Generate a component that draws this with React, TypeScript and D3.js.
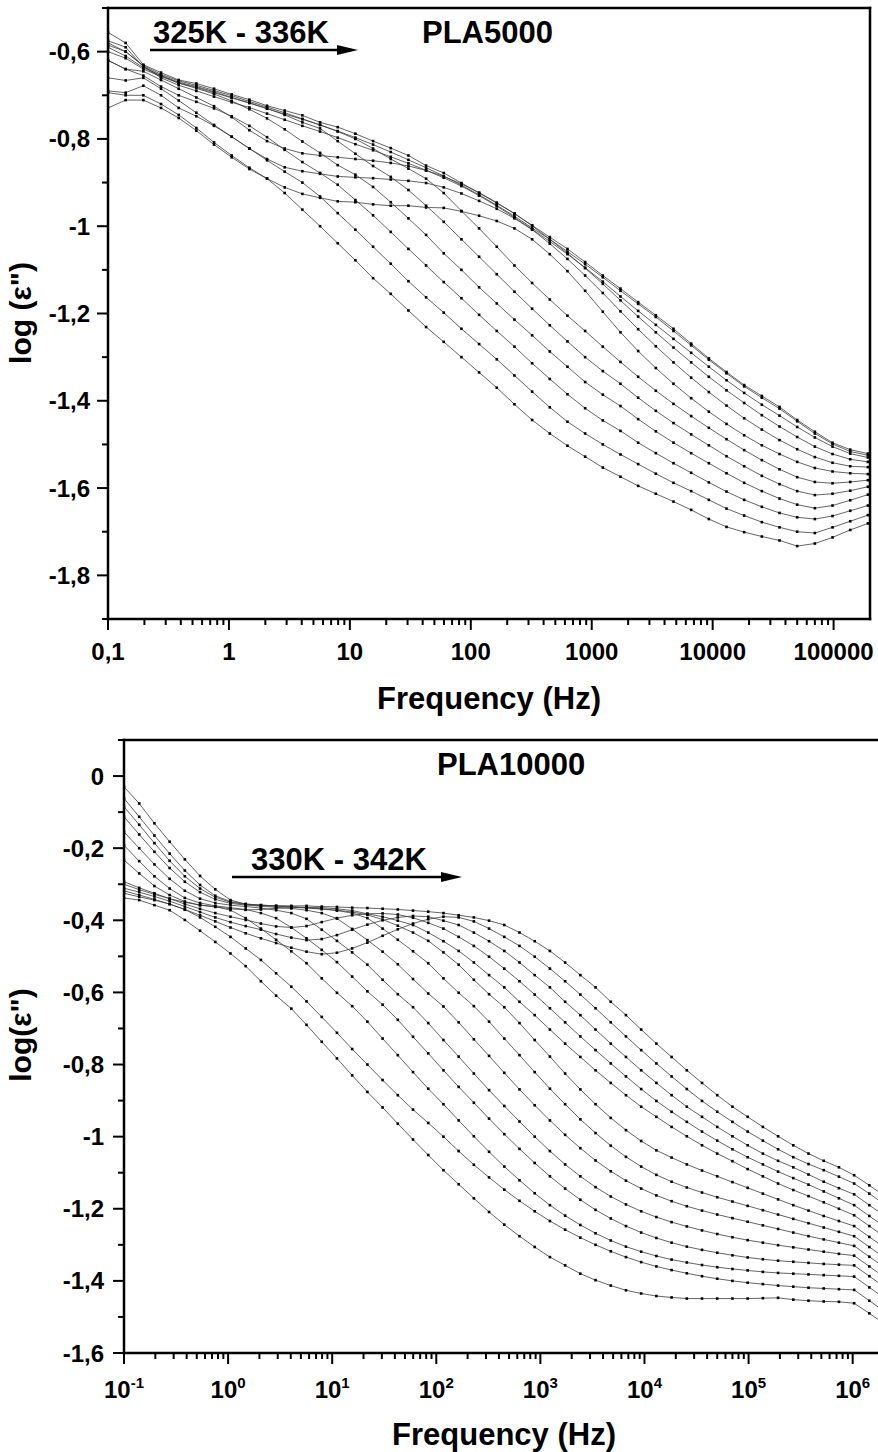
import React from "react";
import * as d3 from "d3";

// Measurement frequencies (Hz), shared by both panels
const FREQ = [0.1, 0.14, 0.196, 0.2744, 0.3842, 0.5378, 0.753, 1.0541, 1.4758, 2.0661, 2.8925, 4.0496, 5.6694, 7.9371, 11.112, 15.557, 21.78, 30.491, 42.688, 59.763, 83.668, 117.14, 163.99, 229.58, 321.41, 449.98, 629.97, 881.96, 1234.7, 1728.6, 2420.1, 3388.1, 4743.4, 6640.8, 9297.1, 13016, 18222, 25511, 35716, 50002, 70003, 98004, 137206, 192088, 268923, 376493, 527090, 737926, 1033096, 1446334, 2024868];

// ---------- PLA5000 (log eps'') ----------
const P5_A = [-0.729, -0.711, -0.711, -0.729, -0.752, -0.781, -0.813, -0.842, -0.869, -0.891, -0.924, -0.962, -1.0, -1.039, -1.078, -1.119, -1.155, -1.193, -1.231, -1.265, -1.3, -1.335, -1.37, -1.408, -1.444, -1.475, -1.503, -1.528, -1.553, -1.574, -1.595, -1.613, -1.631, -1.65, -1.671, -1.689, -1.701, -1.711, -1.72, -1.733, -1.727, -1.713, -1.696, -1.681];
const P5_B = [-0.69, -0.694, -0.678, -0.7, -0.729, -0.748, -0.77, -0.795, -0.822, -0.849, -0.875, -0.9, -0.932, -0.97, -1.008, -1.047, -1.086, -1.126, -1.163, -1.198, -1.235, -1.27, -1.305, -1.342, -1.379, -1.415, -1.448, -1.475, -1.5, -1.523, -1.545, -1.567, -1.588, -1.607, -1.627, -1.647, -1.663, -1.678, -1.69, -1.7, -1.703, -1.69, -1.676, -1.662];
const P5_C = [-0.62, -0.64, -0.655, -0.68, -0.7, -0.715, -0.73, -0.748, -0.77, -0.796, -0.825, -0.853, -0.878, -0.905, -0.94, -0.975, -1.013, -1.052, -1.09, -1.128, -1.165, -1.203, -1.24, -1.276, -1.314, -1.35, -1.385, -1.417, -1.445, -1.469, -1.496, -1.52, -1.543, -1.565, -1.587, -1.608, -1.627, -1.643, -1.657, -1.667, -1.671, -1.664, -1.652, -1.64];
const P5_D = [-0.6, -0.615, -0.64, -0.657, -0.672, -0.684, -0.697, -0.713, -0.732, -0.753, -0.778, -0.806, -0.832, -0.86, -0.882, -0.91, -0.945, -0.982, -1.02, -1.062, -1.1, -1.14, -1.177, -1.214, -1.25, -1.287, -1.322, -1.357, -1.386, -1.412, -1.442, -1.47, -1.496, -1.52, -1.543, -1.566, -1.588, -1.607, -1.624, -1.638, -1.646, -1.64, -1.628, -1.615];
const P5_E = [-0.59, -0.61, -0.637, -0.655, -0.67, -0.68, -0.692, -0.705, -0.717, -0.73, -0.745, -0.762, -0.776, -0.805, -0.834, -0.862, -0.887, -0.917, -0.953, -0.99, -1.03, -1.07, -1.11, -1.15, -1.189, -1.227, -1.264, -1.3, -1.332, -1.361, -1.393, -1.423, -1.451, -1.477, -1.502, -1.527, -1.55, -1.572, -1.591, -1.607, -1.616, -1.613, -1.606, -1.597];
const P5_F = [-0.58, -0.6, -0.632, -0.652, -0.667, -0.677, -0.689, -0.701, -0.714, -0.727, -0.74, -0.754, -0.768, -0.783, -0.8, -0.822, -0.846, -0.868, -0.891, -0.924, -0.965, -1.005, -1.047, -1.09, -1.13, -1.168, -1.205, -1.24, -1.276, -1.311, -1.345, -1.377, -1.407, -1.435, -1.462, -1.488, -1.513, -1.536, -1.557, -1.575, -1.586, -1.589, -1.586, -1.582];
const P5_G = [-0.694, -0.7, -0.7, -0.72, -0.745, -0.775, -0.808, -0.838, -0.866, -0.891, -0.911, -0.926, -0.935, -0.943, -0.945, -0.95, -0.953, -0.953, -0.957, -0.958, -0.966, -0.976, -0.988, -1.005, -1.03, -1.064, -1.103, -1.148, -1.196, -1.243, -1.286, -1.325, -1.361, -1.394, -1.425, -1.453, -1.479, -1.502, -1.522, -1.54, -1.554, -1.562, -1.566, -1.568];
const P5_H = [-0.66, -0.666, -0.66, -0.685, -0.712, -0.74, -0.768, -0.795, -0.822, -0.846, -0.865, -0.874, -0.88, -0.886, -0.888, -0.89, -0.893, -0.896, -0.901, -0.911, -0.925, -0.942, -0.96, -0.982, -1.008, -1.04, -1.075, -1.113, -1.153, -1.195, -1.236, -1.275, -1.312, -1.347, -1.38, -1.411, -1.44, -1.466, -1.49, -1.511, -1.529, -1.542, -1.55, -1.552];
const P5_I = [-0.62, -0.64, -0.645, -0.665, -0.685, -0.705, -0.725, -0.75, -0.78, -0.805, -0.822, -0.833, -0.838, -0.842, -0.846, -0.85, -0.855, -0.862, -0.872, -0.886, -0.903, -0.923, -0.946, -0.971, -0.999, -1.03, -1.062, -1.096, -1.132, -1.17, -1.207, -1.243, -1.278, -1.312, -1.345, -1.376, -1.405, -1.433, -1.459, -1.483, -1.505, -1.522, -1.534, -1.54];
const P5_J = [-0.556, -0.58, -0.63, -0.648, -0.665, -0.673, -0.685, -0.698, -0.71, -0.724, -0.735, -0.746, -0.762, -0.773, -0.788, -0.805, -0.821, -0.838, -0.861, -0.878, -0.901, -0.924, -0.947, -0.971, -0.998, -1.025, -1.052, -1.082, -1.113, -1.143, -1.174, -1.204, -1.235, -1.269, -1.303, -1.334, -1.364, -1.389, -1.414, -1.444, -1.471, -1.496, -1.512, -1.521];
const P5_K = [-0.575, -0.59, -0.635, -0.655, -0.672, -0.682, -0.694, -0.706, -0.718, -0.731, -0.743, -0.755, -0.768, -0.782, -0.797, -0.813, -0.83, -0.848, -0.866, -0.885, -0.906, -0.928, -0.952, -0.977, -1.004, -1.03, -1.058, -1.087, -1.117, -1.148, -1.178, -1.208, -1.24, -1.273, -1.306, -1.337, -1.367, -1.393, -1.418, -1.447, -1.475, -1.499, -1.516, -1.525];
const P5_L = [-0.585, -0.6, -0.633, -0.66, -0.677, -0.69, -0.703, -0.716, -0.728, -0.742, -0.756, -0.77, -0.783, -0.797, -0.812, -0.826, -0.841, -0.856, -0.872, -0.889, -0.908, -0.93, -0.954, -0.98, -1.007, -1.035, -1.064, -1.095, -1.127, -1.161, -1.194, -1.226, -1.258, -1.29, -1.322, -1.353, -1.382, -1.409, -1.434, -1.46, -1.484, -1.505, -1.521, -1.53];
const PLA5000 = [P5_A, P5_B, P5_C, P5_D, P5_E, P5_F, P5_G, P5_H, P5_I, P5_J, P5_K, P5_L];

// ---------- PLA10000 (log eps'') ----------
const P10_A = [-0.338, -0.344, -0.358, -0.372, -0.399, -0.429, -0.46, -0.492, -0.527, -0.569, -0.609, -0.645, -0.69, -0.737, -0.783, -0.83, -0.876, -0.919, -0.964, -1.008, -1.051, -1.093, -1.132, -1.171, -1.209, -1.244, -1.276, -1.306, -1.334, -1.357, -1.38, -1.398, -1.413, -1.426, -1.435, -1.442, -1.446, -1.449, -1.449, -1.449, -1.449, -1.449, -1.448, -1.447, -1.452, -1.455, -1.457, -1.458, -1.462, -1.49, -1.52];
const P10_B = [-0.325, -0.335, -0.344, -0.355, -0.37, -0.392, -0.418, -0.446, -0.478, -0.51, -0.547, -0.584, -0.625, -0.668, -0.712, -0.757, -0.8, -0.843, -0.885, -0.925, -0.962, -1.0, -1.04, -1.078, -1.113, -1.147, -1.178, -1.207, -1.234, -1.258, -1.28, -1.3, -1.318, -1.334, -1.348, -1.36, -1.37, -1.379, -1.387, -1.394, -1.4, -1.405, -1.409, -1.413, -1.416, -1.419, -1.421, -1.423, -1.425, -1.455, -1.485];
const P10_C = [-0.233, -0.27, -0.305, -0.33, -0.348, -0.358, -0.362, -0.372, -0.394, -0.423, -0.454, -0.486, -0.519, -0.561, -0.601, -0.638, -0.681, -0.728, -0.774, -0.821, -0.867, -0.91, -0.955, -0.999, -1.042, -1.083, -1.121, -1.157, -1.19, -1.219, -1.245, -1.268, -1.288, -1.305, -1.319, -1.331, -1.341, -1.349, -1.356, -1.362, -1.367, -1.371, -1.375, -1.378, -1.38, -1.382, -1.384, -1.386, -1.388, -1.418, -1.448];
const P10_D = [-0.192, -0.236, -0.278, -0.312, -0.338, -0.352, -0.36, -0.365, -0.37, -0.38, -0.394, -0.42, -0.45, -0.482, -0.516, -0.556, -0.597, -0.634, -0.676, -0.723, -0.769, -0.816, -0.862, -0.906, -0.95, -0.993, -1.034, -1.073, -1.11, -1.144, -1.175, -1.203, -1.227, -1.248, -1.266, -1.281, -1.294, -1.305, -1.314, -1.322, -1.329, -1.335, -1.34, -1.344, -1.347, -1.35, -1.353, -1.355, -1.357, -1.387, -1.417];
const P10_E = [-0.155, -0.2, -0.245, -0.285, -0.318, -0.34, -0.352, -0.358, -0.362, -0.366, -0.372, -0.38, -0.396, -0.426, -0.457, -0.489, -0.523, -0.565, -0.605, -0.641, -0.685, -0.732, -0.778, -0.825, -0.871, -0.915, -0.958, -1.0, -1.04, -1.077, -1.11, -1.14, -1.166, -1.188, -1.207, -1.223, -1.237, -1.249, -1.26, -1.27, -1.279, -1.287, -1.294, -1.301, -1.307, -1.313, -1.319, -1.325, -1.33, -1.36, -1.39];
const P10_F = [-0.113, -0.162, -0.21, -0.255, -0.293, -0.322, -0.342, -0.353, -0.358, -0.361, -0.364, -0.367, -0.372, -0.38, -0.395, -0.424, -0.455, -0.487, -0.522, -0.563, -0.603, -0.639, -0.683, -0.73, -0.776, -0.823, -0.869, -0.913, -0.955, -0.995, -1.032, -1.066, -1.096, -1.122, -1.144, -1.163, -1.179, -1.193, -1.205, -1.216, -1.226, -1.236, -1.246, -1.256, -1.266, -1.276, -1.285, -1.294, -1.303, -1.333, -1.363];
const P10_G = [-0.085, -0.135, -0.186, -0.235, -0.278, -0.312, -0.336, -0.35, -0.356, -0.359, -0.361, -0.363, -0.366, -0.369, -0.373, -0.38, -0.394, -0.423, -0.454, -0.486, -0.519, -0.561, -0.601, -0.638, -0.681, -0.728, -0.774, -0.821, -0.867, -0.91, -0.952, -0.99, -1.025, -1.056, -1.083, -1.106, -1.125, -1.141, -1.155, -1.168, -1.18, -1.192, -1.204, -1.216, -1.228, -1.24, -1.252, -1.264, -1.276, -1.306, -1.336];
const P10_H = [-0.062, -0.113, -0.165, -0.215, -0.262, -0.302, -0.332, -0.348, -0.355, -0.358, -0.36, -0.362, -0.365, -0.368, -0.372, -0.377, -0.385, -0.398, -0.415, -0.434, -0.457, -0.489, -0.523, -0.565, -0.605, -0.641, -0.685, -0.732, -0.778, -0.825, -0.869, -0.91, -0.948, -0.982, -1.012, -1.038, -1.058, -1.077, -1.094, -1.11, -1.126, -1.142, -1.158, -1.174, -1.19, -1.205, -1.22, -1.234, -1.248, -1.278, -1.308];
const P10_I = [-0.3, -0.315, -0.328, -0.34, -0.35, -0.358, -0.363, -0.368, -0.371, -0.37, -0.367, -0.365, -0.364, -0.365, -0.368, -0.373, -0.382, -0.39, -0.401, -0.413, -0.434, -0.458, -0.485, -0.517, -0.552, -0.586, -0.626, -0.663, -0.703, -0.742, -0.779, -0.816, -0.851, -0.885, -0.917, -0.945, -0.973, -0.999, -1.024, -1.047, -1.068, -1.09, -1.11, -1.13, -1.148, -1.165, -1.182, -1.2, -1.218, -1.248, -1.278];
const P10_J = [-0.293, -0.31, -0.325, -0.34, -0.355, -0.368, -0.38, -0.39, -0.399, -0.409, -0.417, -0.42, -0.416, -0.405, -0.394, -0.386, -0.382, -0.381, -0.384, -0.393, -0.407, -0.423, -0.446, -0.471, -0.501, -0.534, -0.569, -0.606, -0.644, -0.683, -0.722, -0.76, -0.797, -0.833, -0.868, -0.901, -0.931, -0.959, -0.986, -1.011, -1.035, -1.057, -1.077, -1.097, -1.115, -1.133, -1.152, -1.171, -1.19, -1.22, -1.25];
const P10_K = [-0.311, -0.322, -0.334, -0.347, -0.362, -0.377, -0.392, -0.405, -0.416, -0.426, -0.438, -0.448, -0.455, -0.452, -0.441, -0.426, -0.412, -0.4, -0.392, -0.388, -0.39, -0.401, -0.413, -0.434, -0.458, -0.485, -0.517, -0.552, -0.586, -0.626, -0.663, -0.703, -0.742, -0.779, -0.816, -0.851, -0.885, -0.917, -0.945, -0.973, -0.999, -1.024, -1.047, -1.067, -1.085, -1.105, -1.125, -1.143, -1.16, -1.19, -1.22];
const P10_L = [-0.318, -0.33, -0.342, -0.355, -0.37, -0.386, -0.403, -0.42, -0.436, -0.45, -0.463, -0.476, -0.487, -0.494, -0.49, -0.478, -0.462, -0.443, -0.425, -0.409, -0.397, -0.39, -0.392, -0.403, -0.423, -0.446, -0.471, -0.501, -0.534, -0.569, -0.606, -0.644, -0.683, -0.722, -0.76, -0.797, -0.833, -0.868, -0.901, -0.931, -0.959, -0.986, -1.011, -1.035, -1.057, -1.076, -1.093, -1.111, -1.13, -1.158, -1.188];
const P10_M = [-0.03, -0.076, -0.131, -0.182, -0.231, -0.277, -0.314, -0.344, -0.355, -0.358, -0.36, -0.36, -0.36, -0.362, -0.363, -0.365, -0.366, -0.368, -0.37, -0.373, -0.376, -0.38, -0.386, -0.392, -0.401, -0.413, -0.434, -0.458, -0.485, -0.517, -0.552, -0.586, -0.626, -0.663, -0.703, -0.742, -0.779, -0.816, -0.851, -0.885, -0.917, -0.945, -0.973, -0.999, -1.024, -1.047, -1.067, -1.085, -1.107, -1.135, -1.165];
const PLA10000 = [P10_A, P10_B, P10_C, P10_D, P10_E, P10_F, P10_G, P10_H, P10_I, P10_J, P10_K, P10_L, P10_M];

// ---------- ticks ----------
const TOP_X_TICKS = [0.1, 1, 10, 100, 1000, 10000, 100000];
const TOP_X_LABELS = ["0,1", "1", "10", "100", "1000", "10000", "100000"];
const TOP_Y_TICKS = [-0.6, -0.8, -1.0, -1.2, -1.4, -1.6, -1.8];
const TOP_Y_LABELS = ["-0,6", "-0,8", "-1", "-1,2", "-1,4", "-1,6", "-1,8"];
const BOT_X_EXP = [-1, 0, 1, 2, 3, 4, 5, 6];
const BOT_Y_TICKS = [0, -0.2, -0.4, -0.6, -0.8, -1.0, -1.2, -1.4, -1.6];
const BOT_Y_LABELS = ["0", "-0,2", "-0,4", "-0,6", "-0,8", "-1", "-1,2", "-1,4", "-1,6"];

const FONT = "'Liberation Sans', Arial, Helvetica, sans-serif";

type PanelProps = {
  id: string;
  left: number; right: number; top: number; bottom: number;
  xDomain: [number, number]; yDomain: [number, number];
  series: number[][];
  xTicks: number[]; xLabel: (i: number) => React.ReactNode;
  yTicks: number[]; yLabels: string[];
  yLabelX: number; xLabelY: number;
  titleX: number; titleY: number; yTitle: string; yTitleX: number; yTitleY: number;
};

function Panel(p: PanelProps) {
  const x = d3.scaleLog().domain(p.xDomain).range([p.left, p.right]);
  const y = d3.scaleLinear().domain(p.yDomain).range([p.bottom, p.top]);
  const line = d3.line<number>().x((_, i) => x(FREQ[i])).y((d) => y(d));

  const minorX: number[] = [];
  for (let e = -1; e <= 6; e++) {
    for (let m = 2; m <= 9; m++) {
      const v = m * Math.pow(10, e);
      if (v > p.xDomain[0] * 1.0001 && v < p.xDomain[1] * 0.9999) minorX.push(v);
    }
  }
  const minorY: number[] = [];
  for (let t = Math.round(p.yDomain[0] * 10); t <= Math.round(p.yDomain[1] * 10); t++) {
    if (Math.abs(t) % 2 === 1) minorY.push(t / 10);
  }
  const majTick = 11, minTick = 6;

  return (
    <g>
      <defs>
        <clipPath id={p.id}>
          <rect x={p.left} y={p.top} width={p.right - p.left} height={p.bottom - p.top} />
        </clipPath>
      </defs>
      <g clipPath={`url(#${p.id})`}>
        {p.series.map((s, si) => (
          <g key={si}>
            <path d={line(s) || ""} fill="none" stroke="#3c3c3c" strokeWidth={0.8} />
            {s.map((v, i) => (
              <rect key={i} x={x(FREQ[i]) - 1.3} y={y(v) - 1.3} width={2.6} height={2.6} fill="#000" />
            ))}
          </g>
        ))}
      </g>
      <g stroke="#000" strokeWidth={2.5} strokeLinecap="square">
        <line x1={p.left} y1={p.top} x2={p.left} y2={p.bottom} />
        <line x1={p.left} y1={p.bottom} x2={p.right} y2={p.bottom} />
        <line x1={p.left} y1={p.top} x2={p.right} y2={p.top} />
        <line x1={p.right} y1={p.top} x2={p.right} y2={p.bottom} />
      </g>
      <g stroke="#000" strokeWidth={2}>
        {p.xTicks.map((t) => (
          <line key={"xm" + t} x1={x(t)} x2={x(t)} y1={p.bottom} y2={p.bottom + majTick} />
        ))}
        {minorX.map((t) => (
          <line key={"xn" + t} x1={x(t)} x2={x(t)} y1={p.bottom} y2={p.bottom + minTick} />
        ))}
        {p.yTicks.map((t) => (
          <line key={"ym" + t} x1={p.left - majTick} x2={p.left} y1={y(t)} y2={y(t)} />
        ))}
        {minorY.map((t) => (
          <line key={"yn" + t} x1={p.left - minTick} x2={p.left} y1={y(t)} y2={y(t)} />
        ))}
      </g>
      <g fontFamily={FONT} fontWeight="bold" fill="#000">
        {p.xTicks.map((t, i) => (
          <text key={"xl" + t} x={x(t)} y={p.xLabelY} fontSize={24} textAnchor="middle">{p.xLabel(i)}</text>
        ))}
        {p.yTicks.map((t, i) => (
          <text key={"yl" + t} x={p.yLabelX} y={y(t) + 8.5} fontSize={24} textAnchor="end">{p.yLabels[i]}</text>
        ))}
        <text x={p.titleX} y={p.titleY} fontSize={31} textAnchor="middle">Frequency (Hz)</text>
        <text transform={`translate(${p.yTitleX},${p.yTitleY}) rotate(-90)`} fontSize={30} textAnchor="middle">{p.yTitle}</text>
      </g>
    </g>
  );
}

function Arrow({ x1, x2, y }: { x1: number; x2: number; y: number }) {
  return (
    <g>
      <line x1={x1} x2={x2 - 18} y1={y} y2={y} stroke="#000" strokeWidth={2.6} />
      <path d={`M${x2 - 21},${y - 5} L${x2},${y} L${x2 - 21},${y + 5} Z`} fill="#000" />
    </g>
  );
}

export default function App() {
  return (
    <svg width={878} height={1452} viewBox="0 0 878 1452"
      style={{ position: "absolute", left: 0, top: 0, display: "block", background: "#fff" }}>
      <rect x={0} y={0} width={878} height={1452} fill="#fff" />
      <Panel id="clipTop" left={108} right={870} top={8} bottom={619}
        xDomain={[0.1, 200000]} yDomain={[-1.9, -0.5]} series={PLA5000}
        xTicks={TOP_X_TICKS} xLabel={(i) => TOP_X_LABELS[i]}
        yTicks={TOP_Y_TICKS} yLabels={TOP_Y_LABELS} yLabelX={90} xLabelY={660}
        titleX={489} titleY={709} yTitle={'log (\u03B5")'} yTitleX={31} yTitleY={313} />
      <Panel id="clipBot" left={124} right={884} top={740} bottom={1353}
        xDomain={[0.1, 2000000]} yDomain={[-1.6, 0.1]} series={PLA10000}
        xTicks={BOT_X_EXP.map((e) => Math.pow(10, e))}
        xLabel={(i) => (<>10<tspan dy={-10} fontSize={15}>{String(BOT_X_EXP[i])}</tspan></>)}
        yTicks={BOT_Y_TICKS} yLabels={BOT_Y_LABELS} yLabelX={104} xLabelY={1398}
        titleX={504} titleY={1445} yTitle={'log(\u03B5")'} yTitleX={31} yTitleY={1035} />
      <g fontFamily={FONT} fontWeight="bold" fill="#000">
        <text x={153} y={42.5} fontSize={31}>325K - 336K</text>
        <text x={422} y={43} fontSize={31}>PLA5000</text>
        <text x={437} y={775} fontSize={31}>PLA10000</text>
        <text x={251} y={870} fontSize={31}>330K - 342K</text>
      </g>
      <Arrow x1={150} x2={358} y={50} />
      <Arrow x1={232} x2={462} y={877} />
    </svg>
  );
}
